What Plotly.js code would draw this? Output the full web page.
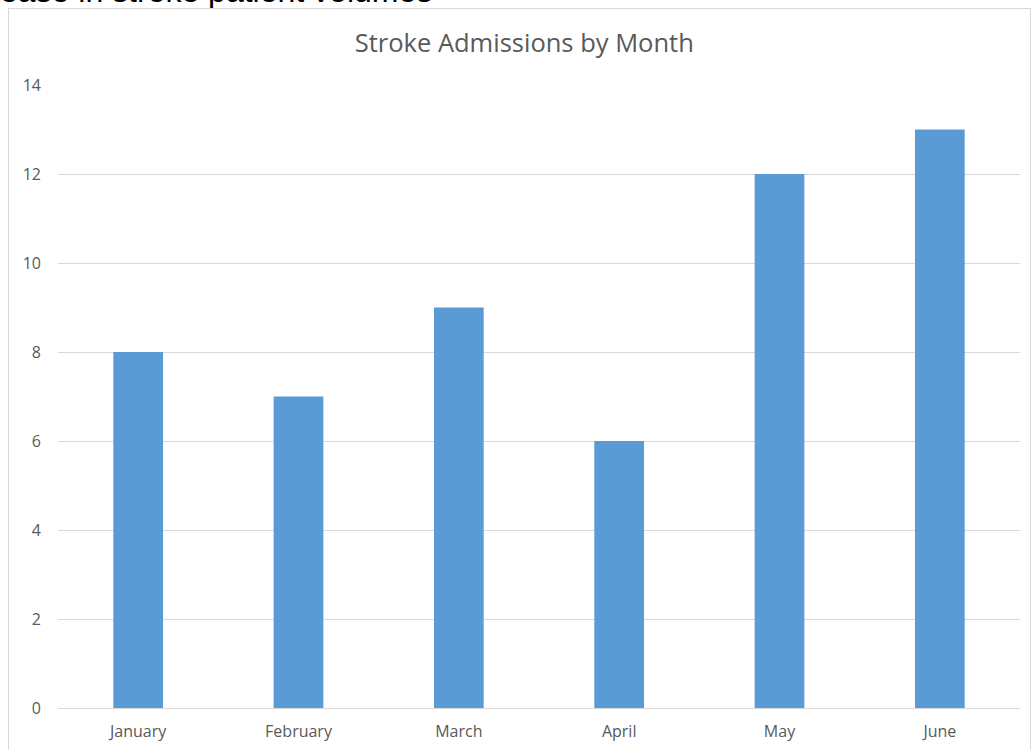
<!DOCTYPE html>
<html>
<head>
<meta charset="utf-8">
<script src="https://cdn.plot.ly/plotly-3.0.1.min.js"></script>
<style>
html,body{margin:0;padding:0;background:#fff;overflow:hidden;}
#wrap{position:relative;width:1032px;height:750px;}
#chart{width:1032px;height:750px;}
#frame{position:absolute;left:8px;top:8px;width:1021px;height:745px;border:1px solid #d9d9d9;pointer-events:none;}
</style>
</head>
<body>
<div id="wrap">
<div id="chart"></div>
<div id="frame"></div>
</div>
<script>
const months = ["January", "February", "March", "April", "May", "June"];
const admissions = [8, 7, 9, 6, 12, 13];
const yTicks = [0, 2, 4, 6, 8, 10, 12, 14];
const chartTitle = "Stroke Admissions by Month";
const pageHeading = "ease in stroke patient volumes";

const trace = {
  type: "bar",
  x: months,
  y: admissions,
  marker: {color: "#5b9bd5"},
  hoverinfo: "x+y"
};

const layout = {
  width: 1032,
  height: 750,
  margin: {l: 58, r: 12, t: 85, b: 42},
  paper_bgcolor: "#ffffff",
  plot_bgcolor: "#ffffff",
  bargap: 0.69,
  showlegend: false,
  font: {family: "'Open Sans', sans-serif", color: "#595959"},
  title: {
    text: chartTitle,
    font: {family: "'Open Sans', sans-serif", size: 25.5, color: "#595959"},
    x: 0.508, xanchor: "center",
    y: 0.943, yanchor: "middle"
  },
  xaxis: {
    type: "category",
    showgrid: false,
    showline: false,
    zeroline: false,
    ticks: "",
    tickfont: {size: 16, color: "#595959"},
    ticklabelstandoff: 12
  },
  yaxis: {
    range: [0, 14],
    tickvals: yTicks,
    ticktext: yTicks.map(String),
    showgrid: true,
    gridcolor: "#d9d9d9",
    gridwidth: 1,
    zeroline: true,
    zerolinecolor: "#d9d9d9",
    zerolinewidth: 1,
    showline: false,
    ticks: "",
    tickfont: {size: 16, color: "#595959"},
    ticklabelstandoff: 16
  },
  annotations: [{
    text: pageHeading,
    xref: "paper", yref: "paper",
    x: -0.062, xanchor: "left",
    y: 1.118, yanchor: "bottom",
    showarrow: false,
    font: {family: "'Liberation Sans', Arial, sans-serif", size: 32, color: "#000000"}
  }]
};

Plotly.newPlot("chart", [trace], layout, {displayModeBar: false, staticPlot: true});
</script>
</body>
</html>
